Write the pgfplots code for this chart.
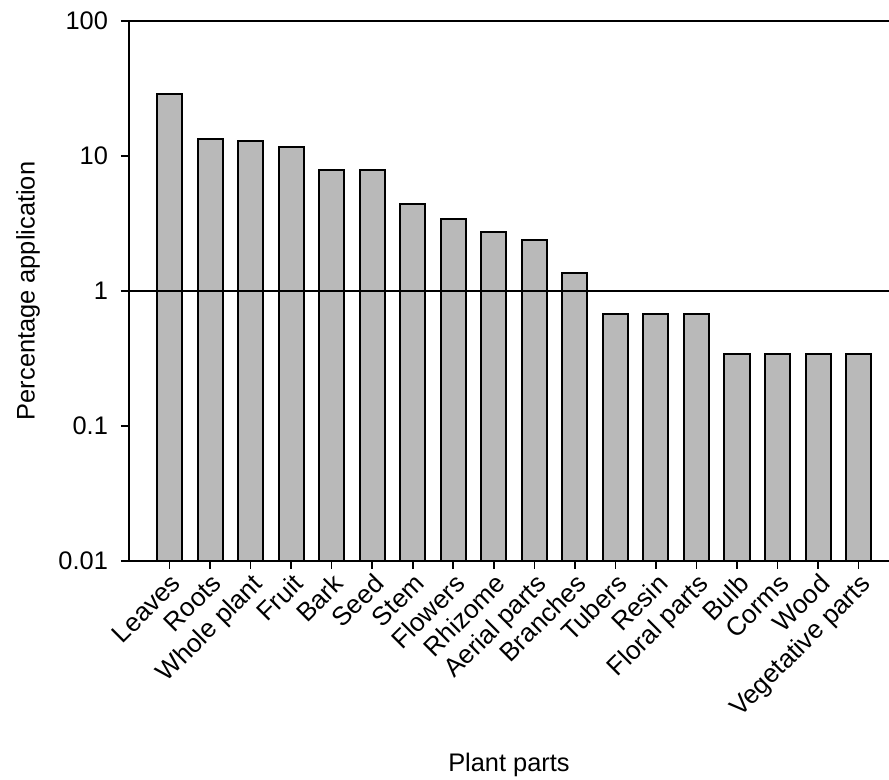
\documentclass[border=0pt]{standalone}
\usepackage{fontspec}
\setmainfont{Liberation Sans}
\usepackage{pgfplots}
\pgfplotsset{compat=1.18}
\begin{document}
\begin{tikzpicture}
\begin{axis}[
  at={(0,0)}, anchor=south west,
  scale only axis, width=380pt, height=270pt,
  ymode=log, ymin=0.01, ymax=100, log origin=infty,
  xmin=-1, xmax=17.75,
  ybar, bar width=0.617,
  ytick={0.01,0.1,1,10,100},
  yticklabels={0.01,0.1,1,10,100},
  minor tick style={draw=none},
  xtick={0,...,17},
  xticklabels={Leaves,Roots,Whole plant,Fruit,Bark,Seed,Stem,Flowers,Rhizome,Aerial parts,Branches,Tubers,Resin,Floral parts,Bulb,Corms,Wood,Vegetative parts},
  axis x line*=bottom, axis y line*=left,
  axis line style={line width=1pt,-},
  tick align=outside, major tick length=4pt,
  tick style={line width=0.8pt, black},
  extra y ticks={1,100}, extra y tick labels={},
  extra y tick style={grid=major, major grid style={black, line width=1pt}},
  axis on top,
  yticklabel style={font=\fontsize{12.7}{15}\selectfont, xshift=-3pt},
  xticklabel style={font=\fontsize{13}{15}\selectfont, rotate=45, anchor=north east, inner sep=1pt},
  every axis y label/.style={at={(axis description cs:-0.1329,0.5)}, rotate=90, anchor=center, font=\fontsize{12.7}{15}\selectfont},
  every axis x label/.style={at={(axis description cs:0.5,-0.3907)}, anchor=base, font=\fontsize{12.7}{15}\selectfont},
  ylabel={Percentage application},
  xlabel={Plant parts},
]
\addplot[fill=gray!55, draw=black, line width=1pt] coordinates {
(0,28.57) (1,13.27) (2,12.93) (3,11.56) (4,7.82) (5,7.82) (6,4.42) (7,3.40) (8,2.72) (9,2.38) (10,1.36) (11,0.68) (12,0.68) (13,0.68) (14,0.34) (15,0.34) (16,0.34) (17,0.34)
};
\end{axis}
\pgfresetboundingbox
\useasboundingbox (-64.5pt,-109.5pt) rectangle (380pt,280.5pt);
\end{tikzpicture}
\end{document}
